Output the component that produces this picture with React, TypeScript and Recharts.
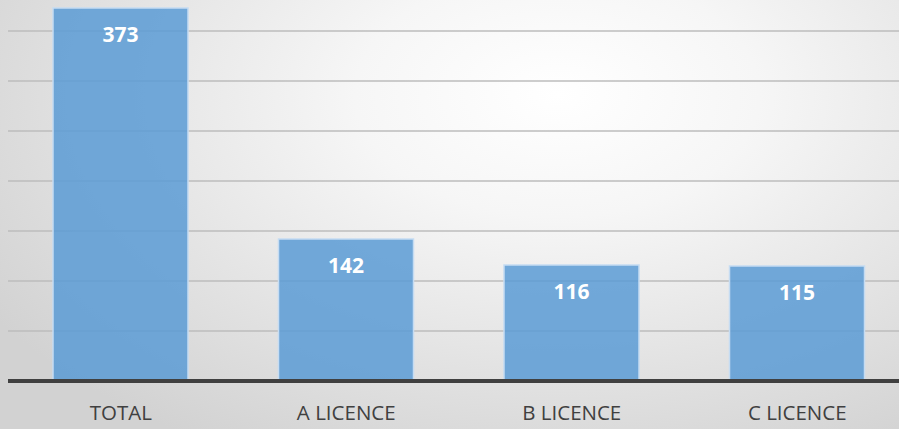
import { BarChart, Bar, XAxis, YAxis, CartesianGrid, LabelList } from "recharts";

const categories = ["TOTAL", "A LICENCE", "B LICENCE", "C LICENCE"];
const counts = [373, 142, 116, 115];
const yTicks = [0, 50, 100, 150, 200, 250, 300, 350, 400];

const data = categories.map((name, i) => ({ name, count: counts[i] }));

const App = () => {
  return (
    <div
      style={{
        position: "absolute",
        left: 0,
        top: 0,
        width: 899,
        height: 429,
        overflow: "hidden",
        background:
          "radial-gradient(ellipse 75% 95% at 62% 22%, #ffffff 0%, #f6f6f6 30%, #e4e4e4 65%, #d2d2d2 100%)",
        fontFamily: "'Open Sans', sans-serif",
      }}
    >
      {/* plot top (400) sits above the visible area, like the cropped original */}
      <div style={{ marginTop: -19 }}>
        <BarChart
          width={910}
          height={448}
          data={data}
          margin={{ top: 0, right: 0, bottom: 0, left: 8 }}
          barSize={135}
        >
          <CartesianGrid vertical={false} stroke="#bdbdbd" strokeWidth={1.5} />
          <YAxis hide domain={[0, 400]} ticks={yTicks} />
          <XAxis
            dataKey="name"
            height={48}
            tickLine={false}
            axisLine={{ stroke: "#404040", strokeWidth: 4 }}
            tickMargin={18}
            tick={{ fill: "#404040", fontSize: 20.5 }}
          />
          <Bar
            dataKey="count"
            fill="#5b9bd5"
            fillOpacity={0.85}
            stroke="#c5dcf2"
            strokeWidth={1.5}
            isAnimationActive={false}
          >
            <LabelList
              dataKey="count"
              position="insideTop"
              offset={19}
              fill="#ffffff"
              fontSize={21}
              fontWeight={700}
            />
          </Bar>
        </BarChart>
      </div>
    </div>
  );
};

export default App;
